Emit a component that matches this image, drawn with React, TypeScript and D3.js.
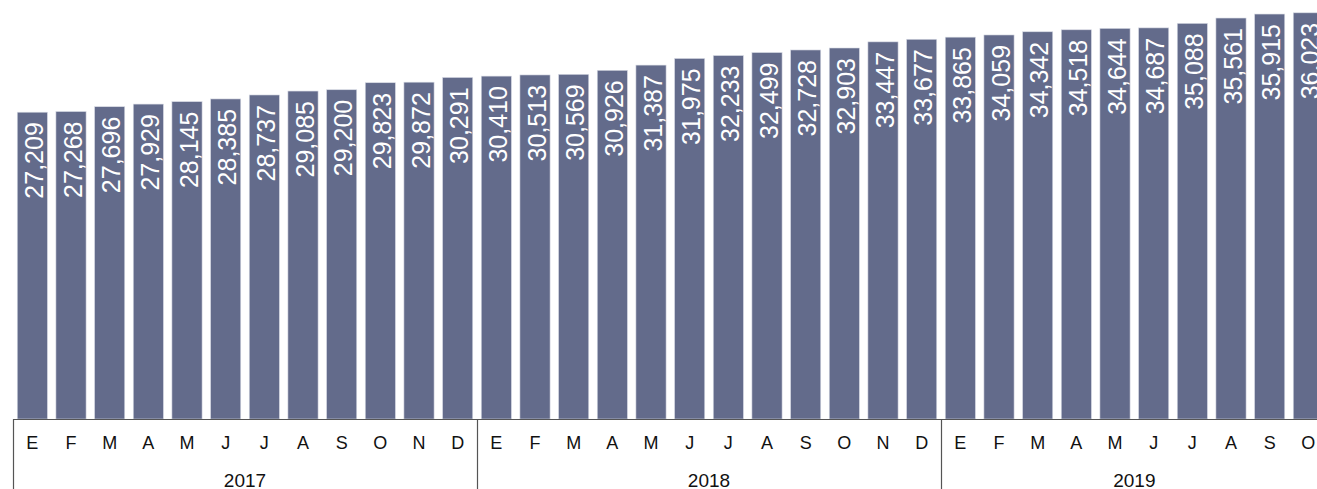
import React, { useEffect, useRef } from "react";
import * as d3 from "d3";

const years = ["2017", "2018", "2019"];
const monthLabels = ["E", "F", "M", "A", "M", "J", "J", "A", "S", "O", "N", "D"];
const monthsPerYear = [12, 12, 10];
const values = [
  27209, 27268, 27696, 27929, 28145, 28385, 28737, 29085, 29200, 29823, 29872, 30291,
  30410, 30513, 30569, 30926, 31387, 31975, 32233, 32499, 32728, 32903, 33447, 33677,
  33865, 34059, 34342, 34518, 34644, 34687, 35088, 35561, 35915, 36023,
];

const W = 1317;
const H = 489;
const FONT = "Liberation Sans, Arial, sans-serif";

export default function App() {
  const ref = useRef<SVGSVGElement>(null);

  useEffect(() => {
    const svg = d3.select(ref.current);
    svg.selectAll("*").remove();

    const rows: { key: string; month: string; year: string; value: number }[] = [];
    let k = 0;
    years.forEach((y, yi) => {
      for (let m = 0; m < monthsPerYear[yi]; m++) {
        rows.push({ key: `${y}-${m}`, month: monthLabels[m], year: y, value: values[k++] });
      }
    });

    const left = 13;
    const step = 464 / 12;
    const axisY = 419;

    const x = d3.scaleBand()
      .domain(rows.map(d => d.key))
      .range([left, left + step * rows.length])
      .paddingInner(0.22)
      .paddingOuter(0.11);

    const y = d3.scaleLinear().domain([0, 37160]).range([axisY, 0]);

    svg.append("g")
      .selectAll("rect")
      .data(rows)
      .join("rect")
      .attr("x", d => x(d.key)!)
      .attr("y", d => y(d.value))
      .attr("width", x.bandwidth())
      .attr("height", d => axisY - y(d.value))
      .attr("fill", "#636b8b")
      .attr("stroke", "#d8dbe4")
      .attr("stroke-width", 0.6);

    svg.append("g")
      .selectAll("text")
      .data(rows)
      .join("text")
      .attr("transform", d => `translate(${x(d.key)! + x.bandwidth() / 2 + 2},${y(d.value) + 10}) rotate(-90)`)
      .attr("text-anchor", "end")
      .attr("dy", "0.35em")
      .attr("fill", "#fff")
      .attr("font-family", FONT)
      .attr("font-size", 25)
      .text(d => d3.format(",")(d.value));

    // axis line
    svg.append("line")
      .attr("x1", left)
      .attr("x2", W)
      .attr("y1", axisY + 0.5)
      .attr("y2", axisY + 0.5)
      .attr("stroke", "#555")
      .attr("stroke-width", 1.2);

    // month labels
    svg.append("g")
      .selectAll("text")
      .data(rows)
      .join("text")
      .attr("x", d => x(d.key)! + x.bandwidth() / 2)
      .attr("y", 443)
      .attr("dy", "0.35em")
      .attr("text-anchor", "middle")
      .attr("font-family", FONT)
      .attr("font-size", 18)
      .attr("fill", "#111")
      .text(d => d.month);

    // year groups
    let start = 0;
    years.forEach((yr, yi) => {
      const n = monthsPerYear[yi];
      const x0 = left + step * start;
      const x1 = left + step * (start + n);
      svg.append("line")
        .attr("x1", Math.round(x0) + 0.5)
        .attr("x2", Math.round(x0) + 0.5)
        .attr("y1", axisY)
        .attr("y2", H)
        .attr("stroke", "#555")
        .attr("stroke-width", 1.2);
      svg.append("text")
        .attr("x", (x0 + x1) / 2)
        .attr("y", 480)
        .attr("dy", "0.35em")
        .attr("text-anchor", "middle")
        .attr("font-family", FONT)
        .attr("font-size", 19)
        .attr("fill", "#111")
        .text(yr);
      start += n;
    });
  }, []);

  return (
    <div style={{ position: "absolute", left: 0, top: 0, width: W, height: H, overflow: "hidden", background: "#fff" }}>
      <svg ref={ref} width={W} height={H} style={{ display: "block" }} />
    </div>
  );
}
